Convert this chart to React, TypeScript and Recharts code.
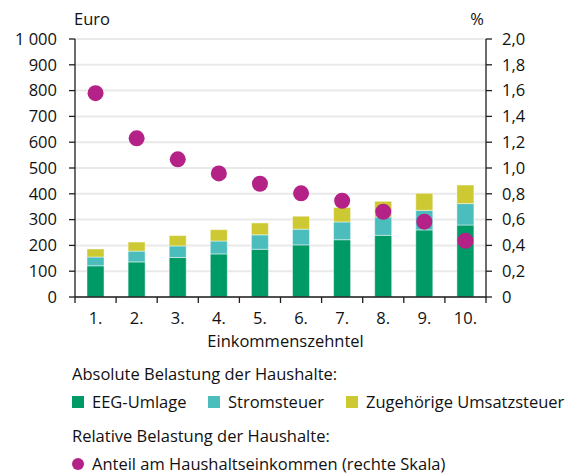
import React from 'react';
import {
  ComposedChart, Bar, Scatter, XAxis, YAxis, CartesianGrid, Label,
} from 'recharts';

// ---- data ----
const deciles = ['1.', '2.', '3.', '4.', '5.', '6.', '7.', '8.', '9.', '10.'];
const eegUmlage = [121, 136, 153, 167, 185, 202, 222, 239, 260, 279];
const stromsteuer = [34, 42, 45, 50, 56, 61, 69, 71, 76, 83];
const umsatzsteuer = [31, 35, 40, 44, 46, 50, 56, 61, 66, 72];
const anteilEinkommen = [1.58, 1.23, 1.067, 0.958, 0.878, 0.804, 0.746, 0.661, 0.584, 0.436];

const leftTicks = [0, 100, 200, 300, 400, 500, 600, 700, 800, 900, 1000];
const rightTicks = [0, 0.2, 0.4, 0.6, 0.8, 1.0, 1.2, 1.4, 1.6, 1.8, 2.0];

const seriesNames = ['EEG-Umlage', 'Stromsteuer', 'Zugehörige Umsatzsteuer'];
const dotName = 'Anteil am Haushaltseinkommen (rechte Skala)';

// ---- style ----
const GREEN = '#009A66';
const TEAL = '#4BBDBD';
const YELLOW = '#CDC932';
const MAGENTA = '#B52287';
const AXIS = '#1e1e1e';
const TEXT = '#111111';
const FONT = '"Open Sans", "Noto Sans", sans-serif';
const FS = 16.5;

const W = 569;
const H = 474;
const CHART_H = 360;
const LEFT_W = 75;
const RIGHT_W = 83;
const PLOT_W = W - LEFT_W - RIGHT_W;
const X_AXIS_H = 50;
const TOP = 39;

const rows = deciles.map((d, i) => ({
  decile: d,
  eeg: eegUmlage[i],
  strom: stromsteuer[i],
  ust: umsatzsteuer[i],
  share: anteilEinkommen[i],
}));

const fmtLeft = (v: number) => (v === 1000 ? '1 000' : String(v));
const fmtRight = (v: number) => (v === 0 ? '0' : v.toFixed(1).replace('.', ','));

const XTick = (props: any) => {
  const { x, y, payload, index } = props;
  const band = PLOT_W / deciles.length;
  const left = x - band / 2;
  const right = x + band / 2;
  return (
    <g>
      <line x1={left} x2={left} y1={y} y2={y + 6} stroke={AXIS} strokeWidth={1.3} />
      {index === deciles.length - 1 && (
        <line x1={right} x2={right} y1={y} y2={y + 6} stroke={AXIS} strokeWidth={1.3} />
      )}
      <text x={x} y={y + 27} textAnchor="middle" fill={TEXT} fontSize={FS} fontFamily={FONT}>
        {payload.value}
      </text>
    </g>
  );
};

const Dot = (p: any) => <circle cx={p.cx} cy={p.cy} r={8} fill={MAGENTA} />;

const legendColors = [GREEN, TEAL, YELLOW];
const legendItemX = [72, 208, 346];

export default function App() {
  return (
    <div style={{ position: 'absolute', left: 0, top: 0, width: W, height: H, background: '#fff' }}>
      <ComposedChart
        width={W}
        height={CHART_H}
        data={rows}
        margin={{ top: TOP, right: 0, bottom: CHART_H - TOP - 258 - X_AXIS_H, left: 0 }}
        barCategoryGap={0}
      >
        <CartesianGrid
          yAxisId="left"
          vertical={false}
          stroke="#e9e9e9"
          strokeWidth={2}
        />
        <XAxis
          dataKey="decile"
          height={X_AXIS_H}
          tickSize={0}
          tickMargin={0}
          tickLine={false}
          axisLine={{ stroke: AXIS, strokeWidth: 1.3 }}
          tick={<XTick />}
          interval={0}
        >
          <Label
            value="Einkommenszehntel"
            position="insideBottom"
            offset={0}
            dx={5}
            fill={TEXT}
            fontSize={FS}
            fontFamily={FONT}
          />
        </XAxis>
        <YAxis
          yAxisId="left"
          width={LEFT_W}
          domain={[0, 1000]}
          ticks={leftTicks}
          tickFormatter={fmtLeft}
          tickSize={6}
          tickMargin={12}
          interval={0}
          axisLine={{ stroke: AXIS, strokeWidth: 1.3 }}
          tickLine={{ stroke: AXIS, strokeWidth: 1.3 }}
          tick={{ fill: TEXT, fontSize: FS, fontFamily: FONT }}
        />
        <YAxis
          yAxisId="right"
          orientation="right"
          width={RIGHT_W}
          domain={[0, 2]}
          ticks={rightTicks}
          tickFormatter={fmtRight}
          tickSize={6}
          tickMargin={10}
          interval={0}
          axisLine={{ stroke: AXIS, strokeWidth: 1.3 }}
          tickLine={{ stroke: AXIS, strokeWidth: 1.3 }}
          tick={{ fill: TEXT, fontSize: FS, fontFamily: FONT, textAnchor: 'start' }}
        />
        <Bar yAxisId="left" dataKey="eeg" name={seriesNames[0]} stackId="a" barSize={17} fill={GREEN}
          stroke="#ffffff" strokeOpacity={0.45} strokeWidth={1} isAnimationActive={false} />
        <Bar yAxisId="left" dataKey="strom" name={seriesNames[1]} stackId="a" barSize={17} fill={TEAL}
          stroke="#ffffff" strokeOpacity={0.45} strokeWidth={1} isAnimationActive={false} />
        <Bar yAxisId="left" dataKey="ust" name={seriesNames[2]} stackId="a" barSize={17} fill={YELLOW}
          stroke="#ffffff" strokeOpacity={0.45} strokeWidth={1} isAnimationActive={false} />
        <Scatter yAxisId="right" dataKey="share" name={dotName} fill={MAGENTA} shape={Dot}
          isAnimationActive={false} />
      </ComposedChart>

      <svg
        width={W}
        height={H}
        style={{ position: 'absolute', left: 0, top: 0, pointerEvents: 'none' }}
        fontFamily={FONT}
        fontSize={FS}
        fill={TEXT}
      >
        <text x={74} y={25}>Euro</text>
        <text x={484} y={25} textAnchor="end">%</text>

        <text x={72} y={380}>Absolute Belastung der Haushalte:</text>
        {seriesNames.map((n, i) => (
          <g key={n}>
            <rect x={legendItemX[i]} y={396} width={12} height={12} fill={legendColors[i]} />
            <text x={legendItemX[i] + 20} y={407.5}>{n}</text>
          </g>
        ))}
        <text x={72} y={441.5}>Relative Belastung der Haushalte:</text>
        <circle cx={78} cy={464} r={6} fill={MAGENTA} />
        <text x={92} y={470}>{dotName}</text>
      </svg>
    </div>
  );
}
